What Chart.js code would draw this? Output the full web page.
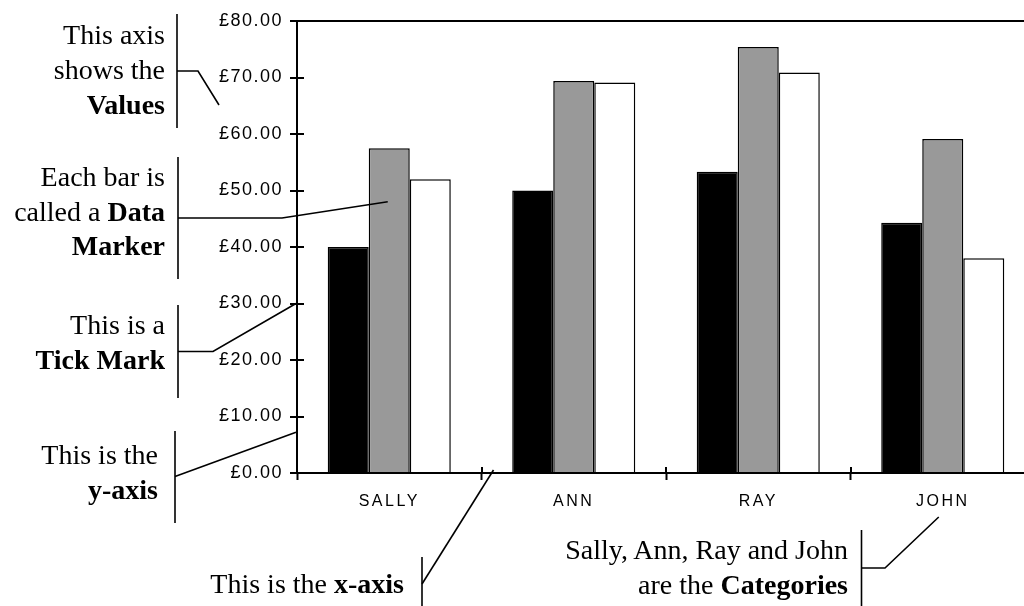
<!DOCTYPE html>
<html>
<head>
<meta charset="utf-8">
<title>Sales by person</title>
<script src="https://cdn.jsdelivr.net/npm/chart.js@4/dist/chart.umd.min.js"></script>
<style>
  html, body { margin: 0; padding: 0; background: #fff; overflow: hidden; width: 1024px; height: 606px; }
  #wrap { position: absolute; left: 0; top: 0; width: 1040px; height: 606px; }
  #wrap canvas { position: absolute; left: 0; top: 0; }
  .note {
    position: absolute;
    font-family: "Liberation Serif", "Times New Roman", serif;
    font-size: 28px;
    line-height: 34.7px;
    color: #000;
    text-align: right;
    white-space: nowrap;
    z-index: 2;
  }
  .note b { font-weight: bold; }
</style>
</head>
<body>
<div id="wrap"><canvas id="c" width="1040" height="606"></canvas></div>

<div class="note" style="right:859px; top:18.2px">This axis<br>shows the<br><b>Values</b></div>
<div class="note" style="right:859px; top:159.9px">Each bar is<br>called a <b>Data</b><br><b>Marker</b></div>
<div class="note" style="right:859px; top:308.2px">This is a<br><b>Tick Mark</b></div>
<div class="note" style="right:866px; top:438.2px">This is the<br><b>y-axis</b></div>
<div class="note" style="right:620px; top:566.5px">This is the <b>x-axis</b></div>
<div class="note" style="right:176px; top:533.2px">Sally, Ann, Ray and John<br>are the <b>Categories</b></div>

<script>
// Categories and the three series of amounts (pounds)
const categories = ['SALLY', 'ANN', 'RAY', 'JOHN'];
const blackSeries = [40, 50, 53.3, 44.3];
const greySeries  = [57.5, 69.4, 75.4, 59.1];
const whiteSeries = [52, 69.1, 70.9, 38];
const valueTicks  = [0, 10, 20, 30, 40, 50, 60, 70, 80];

const INK = '#000';

// Wider letter spacing for the axis labels: y labels are drawn before the
// bars, the category labels (ticks z = 1) after them.
const labelSpacing = {
  id: 'labelSpacing',
  beforeDraw(chart) { chart.ctx.letterSpacing = '1.5px'; },
  beforeDatasetsDraw(chart) { chart.ctx.letterSpacing = '2.5px'; },
  afterDraw(chart) { chart.ctx.letterSpacing = '0px'; }
};

// Tick marks that cross the axis line: the outer half comes from the grid
// options, this adds the half inside the plot.
const crossTicks = {
  id: 'crossTicks',
  afterDatasetsDraw(chart) {
    const { ctx, chartArea, scales } = chart;
    const x = scales.x, y = scales.y;
    ctx.save();
    ctx.strokeStyle = INK;
    ctx.lineWidth = 2;
    ctx.beginPath();
    y.ticks.forEach((t, i) => {
      const py = Math.round(y.getPixelForTick(i));
      ctx.moveTo(chartArea.left, py);
      ctx.lineTo(chartArea.left + 7, py);
    });
    for (let i = 1; i <= categories.length; i++) {
      const px = Math.round(x.getPixelForValue(i - 0.5));
      ctx.moveTo(px, chartArea.bottom);
      ctx.lineTo(px, chartArea.bottom - 6);
    }
    ctx.stroke();
    ctx.restore();
  }
};

// Brackets and leader lines of the explanatory notes
const noteLines = {
  id: 'noteLines',
  afterDraw(chart) {
    const { ctx, chartArea, scales } = chart;
    const x = scales.x, y = scales.y;
    const bar = chart.getDatasetMeta(1).data[0];
    const paths = [
      // Values
      [[177, 14], [177, 128]],
      [[177, 71], [198, 71], [219, 105]],
      // Data Marker
      [[178, 157], [178, 279]],
      [[178, 218], [282, 218], [bar.x - 1.5, y.getPixelForValue(48)]],
      // Tick Mark
      [[178, 305], [178, 398]],
      [[178, 351.5], [213, 351.5], [chartArea.left - 1, y.getPixelForValue(30)]],
      // y-axis
      [[175, 431], [175, 523]],
      [[175, 476.5], [chartArea.left - 1, y.getPixelForValue(7.2)]],
      // x-axis
      [[422, 557], [422, 606]],
      [[422, 584], [x.getPixelForValue(0.5) + 12, chartArea.bottom - 3]],
      // Categories
      [[861.5, 530], [861.5, 606]],
      [[861.5, 568], [885, 568], [x.getPixelForValue(3) - 4, 517]]
    ];
    ctx.save();
    ctx.strokeStyle = INK;
    ctx.lineWidth = 1.6;
    ctx.lineJoin = 'miter';
    paths.forEach(p => {
      ctx.beginPath();
      ctx.moveTo(p[0][0], p[0][1]);
      for (let i = 1; i < p.length; i++) ctx.lineTo(p[i][0], p[i][1]);
      ctx.stroke();
    });
    ctx.restore();
  }
};

new Chart(document.getElementById('c'), {
  type: 'bar',
  data: {
    labels: categories,
    datasets: [
      { label: 'Series 1', data: blackSeries, backgroundColor: '#000000', borderColor: INK, borderWidth: 1.5 },
      { label: 'Series 2', data: greySeries,  backgroundColor: '#999999', borderColor: INK, borderWidth: 1.5 },
      { label: 'Series 3', data: whiteSeries, backgroundColor: '#ffffff', borderColor: INK, borderWidth: 1.5 }
    ]
  },
  options: {
    responsive: false,
    animation: false,
    events: [],
    categoryPercentage: 0.667,
    barPercentage: 1.0,
    layout: { padding: { left: 0, top: 21, right: 5, bottom: 0 } },
    plugins: {
      legend: { display: false },
      tooltip: { enabled: false }
    },
    scales: {
      x: {
        offset: true,
        grid: {
          offset: true,
          drawOnChartArea: false,
          color: INK,
          tickColor: INK,
          tickLength: 7,
          tickWidth: 2
        },
        border: { display: true, color: INK, width: 2 },
        ticks: {
          color: INK,
          font: { family: '"Liberation Sans", Arial, sans-serif', size: 16 },
          padding: 12,
          maxRotation: 0,
          autoSkip: false,
          z: 1
        },
        afterFit(scale) { scale.height = 133; }
      },
      y: {
        min: 0,
        max: 80,
        afterBuildTicks(scale) { scale.ticks = valueTicks.map(v => ({ value: v })); },
        grid: {
          drawOnChartArea: true,
          color: ctx => (ctx.tick && ctx.tick.value === 80 ? INK : 'rgba(0,0,0,0)'),
          lineWidth: 2,
          tickColor: INK,
          tickLength: 7,
          tickWidth: 2
        },
        border: { display: true, color: INK, width: 2 },
        ticks: {
          color: INK,
          font: { family: '"Liberation Sans", Arial, sans-serif', size: 18 },
          padding: 7,
          callback: v => '£' + Number(v).toFixed(2)
        },
        afterFit(scale) { scale.width = 297; }
      }
    }
  },
  plugins: [labelSpacing, crossTicks, noteLines]
});
</script>
</body>
</html>
